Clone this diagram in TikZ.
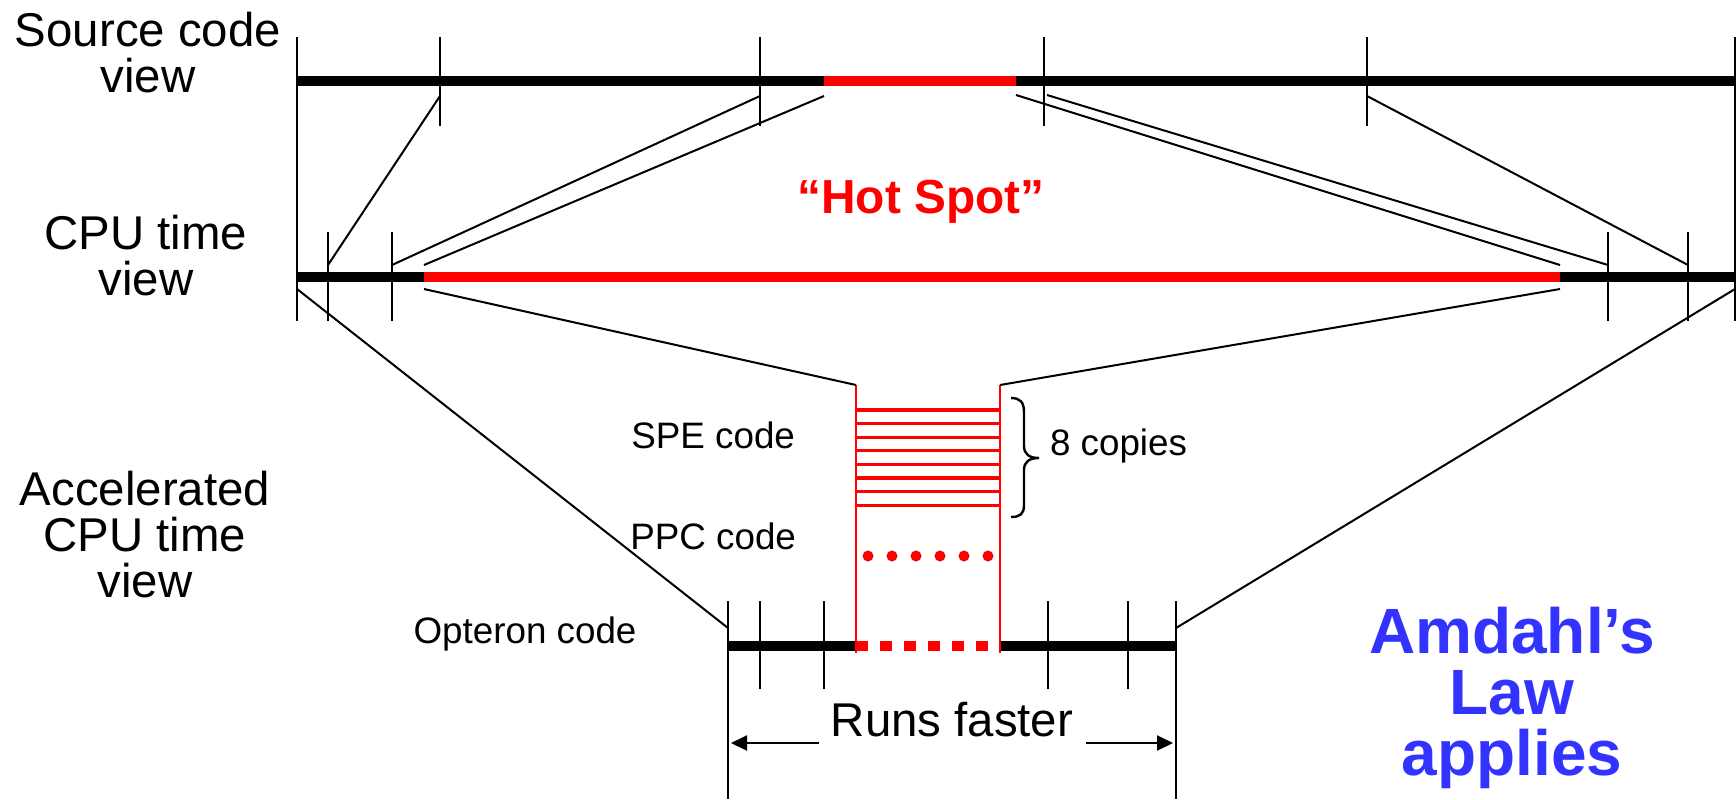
\documentclass[tikz,border=0pt]{standalone}
\usepackage{fontspec}
\setmainfont{Liberation Sans}
\usetikzlibrary{arrows.meta}
\definecolor{hotred}{RGB}{255,0,0}
\definecolor{lawblue}{RGB}{51,51,255}

\begin{document}
\begin{tikzpicture}[x=0.5pt,y=-0.5pt,
  every node/.style={inner sep=0pt,outer sep=0pt},
  rule/.style={line width=1pt,black},
  tick/.style={line width=1pt,black},
  timebar/.style={line width=5.25pt},
  hot/.style={line width=5.25pt,hotred},
  copyline/.style={line width=1.6pt,hotred},
  side/.style={line width=1pt,hotred},
  bigtext/.style={font=\fontsize{23.7pt}{22.8pt}\selectfont,align=center},
  smalltext/.style={font=\fontsize{18.4pt}{18pt}\selectfont},
  span/.style={line width=1pt,-{Triangle[length=8pt,width=7.5pt]}}]
\useasboundingbox (0,0) rectangle (1736,799);

% ---------- source code view ----------
\coordinate (srcL) at (297,81);
\coordinate (srcR) at (1736,81);
\coordinate (srcH1) at (824,81);
\coordinate (srcH2) at (1016,81);
\draw[timebar] (srcL) -- (srcR);
\draw[hot] (srcH1) -- (srcH2);
\foreach \x in {440,760,1044,1367} \draw[tick] (\x,37) -- (\x,126);

% ---------- CPU time view ----------
\coordinate (cpuL) at (297,277);
\coordinate (cpuR) at (1736,277);
\coordinate (cpuH1) at (424,277);
\coordinate (cpuH2) at (1560,277);
\draw[timebar] (cpuL) -- (cpuR);
\draw[hot] (cpuH1) -- (cpuH2);
\foreach \x in {328,392,1608,1688} \draw[tick] (\x,232) -- (\x,321);

% outer frame lines of both views
\coordinate (frameLt) at (297,37);
\coordinate (frameLb) at (297,321);
\coordinate (frameRt) at (1735,37);
\coordinate (frameRb) at (1735,321);
\draw[tick] (frameLt) -- (frameLb);
\draw[tick] (frameRt) -- (frameRb);

% mapping source code -> CPU time
\coordinate (a1) at (440,96);   \coordinate (b1) at (328,265);
\coordinate (a2) at (760,96);   \coordinate (b2) at (392,265);
\coordinate (a3) at (824,96);   \coordinate (b3) at (424,265);
\coordinate (a4) at (1016,95);  \coordinate (b4) at (1560,265);
\coordinate (a5) at (1047,95);  \coordinate (b5) at (1608,265);
\coordinate (a6) at (1367,96);  \coordinate (b6) at (1688,265);
\foreach \i in {1,...,6} \draw[rule] (a\i) -- (b\i);

% ---------- accelerated CPU time view ----------
\coordinate (optL) at (728,646);
\coordinate (spe1) at (856,646);
\coordinate (spe2) at (1000,646);
\coordinate (optR) at (1176,646);
\draw[timebar] (optL) -- (spe1);
\draw[timebar] (spe2) -- (optR);
\draw[hot,dash pattern=on 6pt off 6pt] (spe1) -- (spe2);
\foreach \x in {760,824,1048,1128} \draw[tick] (\x,601) -- (\x,689);

\coordinate (optLt) at (728,601); \coordinate (optLb) at (728,799);
\coordinate (optRt) at (1176,601); \coordinate (optRb) at (1176,799);
\draw[tick] (optLt) -- (optLb);
\draw[tick] (optRt) -- (optRb);

% SPE block: two sides and eight copies
\coordinate (speTL) at (856,385); \coordinate (speBL) at (856,653);
\coordinate (speTR) at (1000,385); \coordinate (speBR) at (1000,653);
\draw[side] (speTL) -- (speBL);
\draw[side] (speTR) -- (speBR);
\foreach \k in {0,...,7} \draw[copyline] (856,410+13.6*\k) -- (1000,410+13.6*\k);

% PPC code dots
\foreach \k in {0,...,5} \fill[hotred] (868+24*\k,556) circle[radius=2.75pt];

% mapping CPU time -> accelerated
\coordinate (c1) at (297,289);  \coordinate (d1) at (728,628);
\coordinate (c2) at (424,289);
\coordinate (c3) at (1560,289);
\coordinate (c4) at (1735,289); \coordinate (d4) at (1176,628);
\draw[rule] (c1) -- (d1);
\draw[rule] (c2) -- (speTL);
\draw[rule] (c3) -- (speTR);
\draw[rule] (c4) -- (d4);

% brace for the eight copies
\draw[rule,line width=1.2pt] (1011,398) .. controls (1020,398) and (1024,402) .. (1024,412)
  -- (1024,446) .. controls (1024,454) and (1029,458) .. (1039,458)
  .. controls (1029,458) and (1024,462) .. (1024,470)
  -- (1024,505) .. controls (1024,514) and (1020,517) .. (1011,517);

% runs faster span
\coordinate (runL0) at (819,743); \coordinate (runL1) at (731,743);
\coordinate (runR0) at (1086,743); \coordinate (runR1) at (1173,743);
\draw[span] (runL0) -- (runL1);
\draw[span] (runR0) -- (runR1);

% ---------- labels ----------
\node[bigtext,anchor=base] (srcLabel) at (148,92) {Source code\\view};
\node[bigtext,anchor=base] (cpuLabel) at (146,295) {CPU time\\view};
\node[bigtext,anchor=base] (accLabel) at (145,597) {Accelerated\\CPU time\\view};
\node[anchor=base,text=hotred,font=\fontsize{23.9pt}{24pt}\selectfont\bfseries] (hotLabel) at (921,213) {“Hot Spot”};
\node[smalltext,anchor=base east] (speLabel) at (795,448) {SPE code};
\node[smalltext,anchor=base east] (ppcLabel) at (796,549) {PPC code};
\node[smalltext,anchor=base] (optLabel) at (525,643) {Opteron code};
\node[smalltext,anchor=base west] (copyLabel) at (1050,455) {8 copies};
\node[bigtext,anchor=base] (runLabel) at (952,736) {Runs faster};
\node[anchor=base,align=center,text=lawblue,font=\fontsize{32pt}{30.5pt}\selectfont\bfseries] (lawLabel) at (1512,775) {Amdahl’s\\Law\\applies};
\end{tikzpicture}
\end{document}
